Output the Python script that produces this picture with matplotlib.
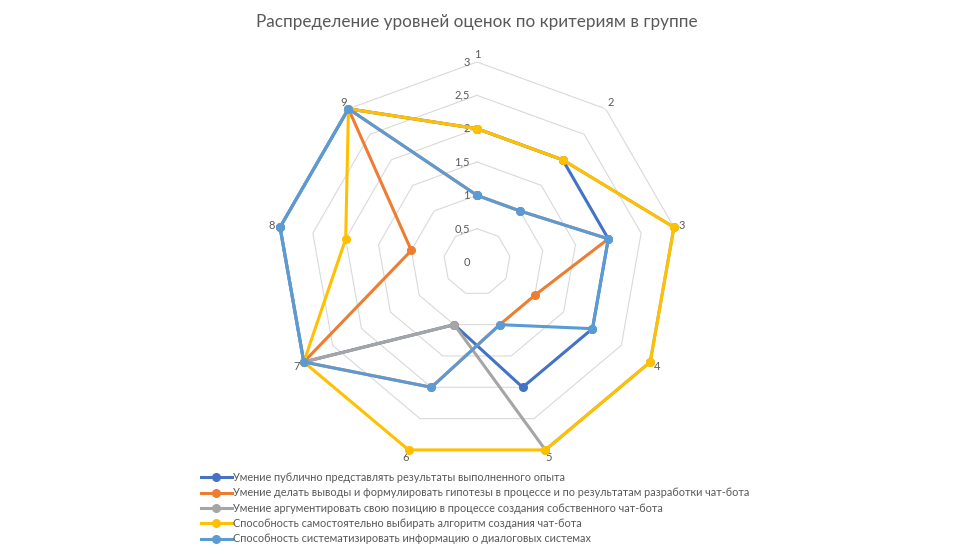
import matplotlib
matplotlib.use("Agg")
import matplotlib.pyplot as plt
import numpy as np

plt.rcParams["font.family"] = ["Lato", "DejaVu Sans"]

title = "Распределение уровней оценок по критериям в группе"
categories = ["1", "2", "3", "4", "5", "6", "7", "8", "9"]
radial_ticks = [0, 0.5, 1, 1.5, 2, 2.5, 3]
radial_labels = ["0", "0,5", "1", "1,5", "2", "2,5", "3"]

series_names = [
    "Умение публично представлять результаты выполненного опыта",
    "Умение делать выводы и формулировать гипотезы в процессе и по результатам разработки чат-бота",
    "Умение аргументировать свою позицию в процессе создания собственного чат-бота",
    "Способность самостоятельно выбирать алгоритм создания чат-бота",
    "Способность систематизировать информацию о диалоговых системах",
]
s1 = [2, 2, 2, 2, 2, 1, 3, 3, 3]
s2 = [1, 1, 2, 1, 1, 2, 3, 1, 3]
s3 = [2, 2, 3, 3, 3, 1, 3, 3, 3]
s4 = [2, 2, 3, 3, 3, 3, 3, 2, 3]
s5 = [1, 1, 2, 2, 1, 2, 3, 3, 3]
series_values = [s1, s2, s3, s4, s5]
colors = ["#4472C4", "#ED7D31", "#A5A5A5", "#FFC000", "#5B9BD5"]

W, H = 957, 554
fig = plt.figure(figsize=(W / 100, H / 100), dpi=100)
cx, cy, R = 477, 262, 200
ax = fig.add_axes([(cx - R) / W, (H - cy - R) / H, 2 * R / W, 2 * R / H], projection="polar")
ax.set_theta_zero_location("N")
ax.set_theta_direction(-1)
ax.set_ylim(0, 3)
ax.grid(False)
ax.spines["polar"].set_visible(False)
ax.set_xticks([])
ax.set_yticks([])
ax.patch.set_alpha(0)

n = len(categories)
theta = np.arange(n) * 2 * np.pi / n
theta_closed = np.append(theta, theta[0])

# polygon grid rings
for r in radial_ticks[1:]:
    ax.plot(theta_closed, [r] * (n + 1), color="#D9D9D9", lw=0.8, zorder=1)

for r, lab in zip(radial_ticks, radial_labels):
    ax.annotate(lab, (0, r), xytext=(-5, 0), textcoords="offset points",
                ha="right", va="center", fontsize=8, color="#595959")

for t, lab in zip(theta, categories):
    ax.text(t, 3.12, lab, ha="center", va="center", fontsize=8, color="#595959")

for vals, name, c in zip(series_values, series_names, colors):
    v = list(vals) + [vals[0]]
    ax.plot(theta_closed, v, color=c, lw=2.2, marker="o", markersize=5.5,
            label=name, zorder=3, clip_on=False)

fig.text(cx / W, 1 - 22 / H, title, ha="center", va="center", fontsize=12.3, color="#595959")

fig.legend(loc="upper left", bbox_to_anchor=(201 / W, 1 - 472 / H), frameon=False,
           fontsize=7.85, handlelength=2.8, handletextpad=0.15, labelspacing=0.4,
           borderaxespad=0, borderpad=0, labelcolor="#595959")

fig.savefig("out.png", dpi=100)
